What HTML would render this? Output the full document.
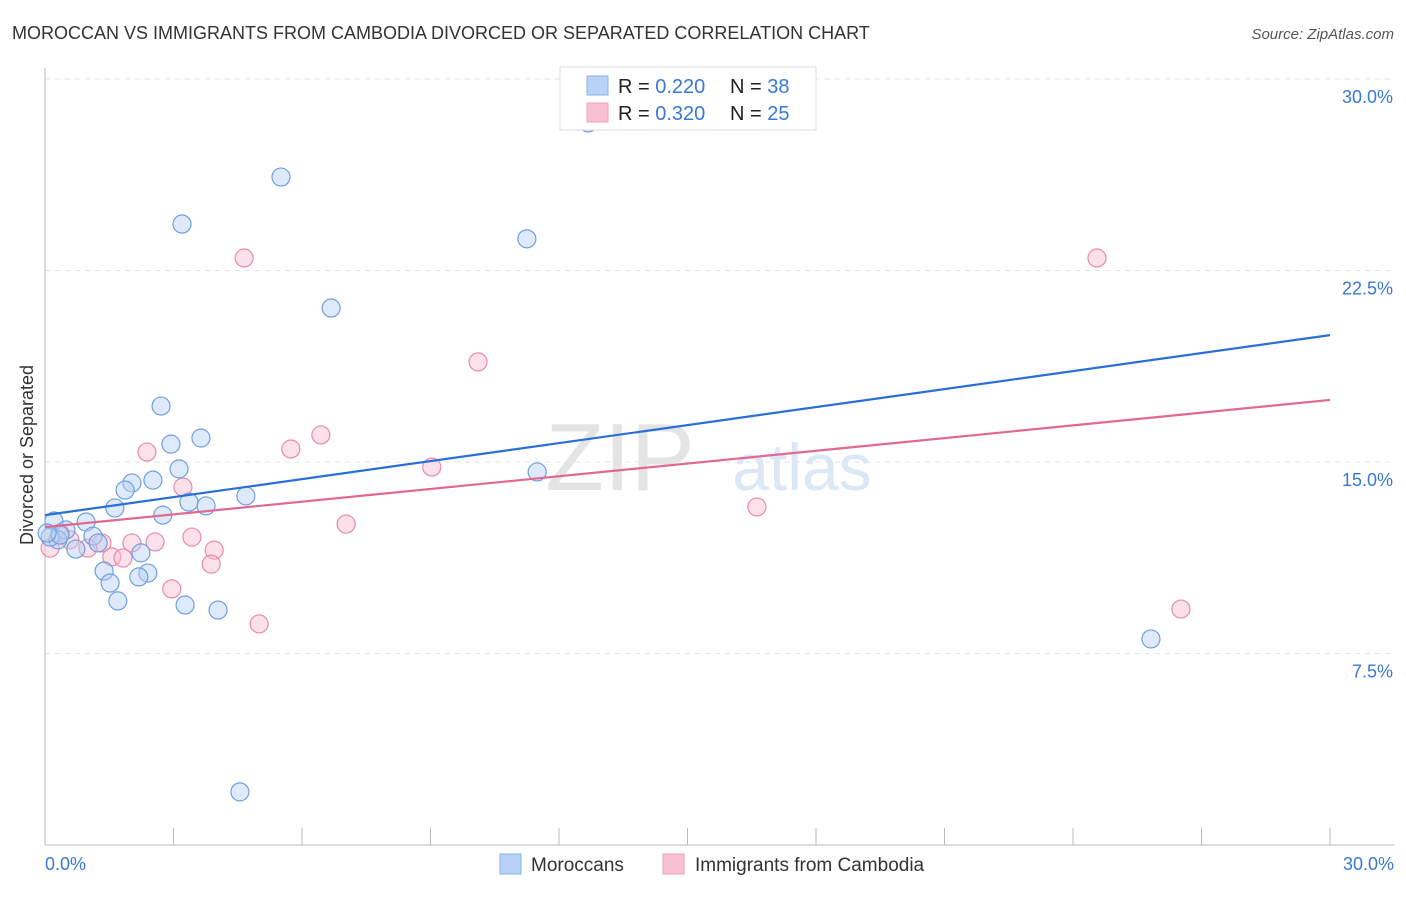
<!DOCTYPE html>
<html><head><meta charset="utf-8">
<style>
body{margin:0;background:#fff;font-family:"Liberation Sans",sans-serif;}
svg text{font-family:"Liberation Sans",sans-serif;}
</style></head>
<body>
<svg id="chart" width="1406" height="892" xmlns="http://www.w3.org/2000/svg">
<text x="12" y="39" font-size="18" fill="#333">MOROCCAN VS IMMIGRANTS FROM CAMBODIA DIVORCED OR SEPARATED CORRELATION CHART</text>
<text x="1394" y="39" font-size="15" fill="#555" font-style="italic" text-anchor="end">Source: ZipAtlas.com</text>
<text x="620" y="490" font-size="96" fill="#e4e4e4" font-family="Liberation Serif" text-anchor="middle">ZIP</text>
<text x="802" y="490" font-size="66" fill="#dce8f6" text-anchor="middle">atlas</text>
<g id="grid"></g>
<g id="axes"></g>
<g id="marks"></g>
<text transform="translate(33,455) rotate(-90)" font-size="18" fill="#333" text-anchor="middle">Divorced or Separated</text>
<g>
<rect x="560" y="67" width="256" height="63" fill="#fff" stroke="#ddd"/>
<rect x="587" y="76" width="21" height="19" fill="#b8d3f7" stroke="#8ab0e6"/>
<rect x="587" y="103" width="21" height="19" fill="#f9c0d3" stroke="#eea0bb"/>
<text x="618" y="93" font-size="20" fill="#222">R = <tspan fill="#3a78d6">0.220</tspan></text>
<text x="730" y="93" font-size="20" fill="#222">N = <tspan fill="#3a78d6">38</tspan></text>
<text x="618" y="120" font-size="20" fill="#222">R = <tspan fill="#3a78d6">0.320</tspan></text>
<text x="730" y="120" font-size="20" fill="#222">N = <tspan fill="#3a78d6">25</tspan></text>
</g>
<g>
<rect x="500" y="854" width="21" height="20" fill="#b8d3f7" stroke="#8ab0e6"/>
<text x="531" y="871" font-size="19" fill="#333">Moroccans</text>
<rect x="663" y="854" width="21" height="20" fill="#f9c0d3" stroke="#eea0bb"/>
<text x="695" y="871" font-size="19" fill="#333">Immigrants from Cambodia</text>
</g>
</svg>
<script>
const yTicks=[7.5,15,22.5,30];
const yTickLabels=["7.5%","15.0%","22.5%","30.0%"];
const xTickCount=10;
const blueX=[12.68,5.51,3.20,11.25,6.68,2.71,2.94,3.64,3.13,2.52,2.03,1.87,4.69,3.36,3.76,1.63,2.75,0.96,0.21,0.49,1.12,0.30,1.24,0.72,2.24,1.38,2.40,1.52,2.19,1.70,3.27,4.04,11.49,25.82,4.55,0.12,0.35,0.05];
const blueY=[28.28,26.16,24.32,23.74,21.03,17.19,15.70,15.94,14.73,14.29,14.18,13.90,13.67,13.43,13.28,13.20,12.92,12.65,12.69,12.34,12.10,11.95,11.83,11.59,11.44,10.73,10.65,10.26,10.50,9.56,9.40,9.20,14.61,8.07,2.08,12.06,12.14,12.22];
const pinkX=[4.65,24.56,10.11,6.44,5.74,2.38,9.03,3.22,7.03,16.62,3.43,2.57,2.03,1.33,0.35,0.58,1.00,1.56,1.82,3.95,3.88,2.96,5.00,26.52,0.12];
const pinkY=[22.99,22.99,18.92,16.06,15.51,15.39,14.80,14.02,12.57,13.24,12.06,11.87,11.83,11.83,12.22,11.95,11.63,11.28,11.24,11.55,11.00,10.03,8.66,9.24,11.63];
const blueTrend=[12.92,19.97];
const pinkTrend=[12.45,17.43];
const X0=45,X1=1330,Y0=845,Y1=79;
const sx=v=>X0+(v/30)*(X1-X0);
const sy=v=>Y0-(v/30)*(Y0-Y1);
const NS="http://www.w3.org/2000/svg";
function mk(parent,tag,attrs){const e=document.createElementNS(NS,tag);for(const k in attrs)e.setAttribute(k,attrs[k]);document.getElementById(parent).appendChild(e);return e;}
yTicks.forEach((t,i)=>{
  const l=mk('grid','line',{x1:X0,x2:1394,y1:sy(t),y2:sy(t),stroke:'#e3e3e3','stroke-dasharray':'5,5'});
  
  
  const tx=mk('axes','text',{x:1393,y:sy(t)+24,'font-size':18,fill:'#3a78d6','text-anchor':'end'});
  tx.textContent=yTickLabels[i];
  
  
});
let a=mk('axes','line',{x1:X0,x2:X0,y1:68,y2:Y0,stroke:'#bbb'});


a=mk('axes','line',{x1:X0,x2:1394,y1:Y0,y2:Y0,stroke:'#bbb'});


for(let i=0;i<=xTickCount;i++){
  const x=sx(30*i/xTickCount);
  const t=mk('axes','line',{x1:x,x2:x,y1:Y0,y2:828,stroke:'#bbb'});
  
  
}
let xl=mk('axes','text',{x:45,y:870,'font-size':18,fill:'#3a78d6'});xl.textContent='0.0%';


xl=mk('axes','text',{x:1394,y:870,'font-size':18,fill:'#3a78d6','text-anchor':'end'});xl.textContent='30.0%';


function pts(xs,ys,fill,stroke,name){
  xs.forEach((v,i)=>{
    const c=mk('marks','circle',{cx:sx(v),cy:sy(ys[i]),r:9,fill:fill,'fill-opacity':0.45,stroke:stroke,'stroke-width':1.2});
    
    
  });
}
pts(pinkX,pinkY,'#f9bcd0','#e98aab','point-cambodia');
pts(blueX,blueY,'#b6d0f5','#6f9fe0','point-moroccan');
let tl=mk('marks','line',{x1:sx(0),y1:sy(blueTrend[0]),x2:sx(30),y2:sy(blueTrend[1]),stroke:'#2a6fd6','stroke-width':2.2});


tl=mk('marks','line',{x1:sx(0),y1:sy(pinkTrend[0]),x2:sx(30),y2:sy(pinkTrend[1]),stroke:'#e06891','stroke-width':2.2});


</script>
</body></html>
